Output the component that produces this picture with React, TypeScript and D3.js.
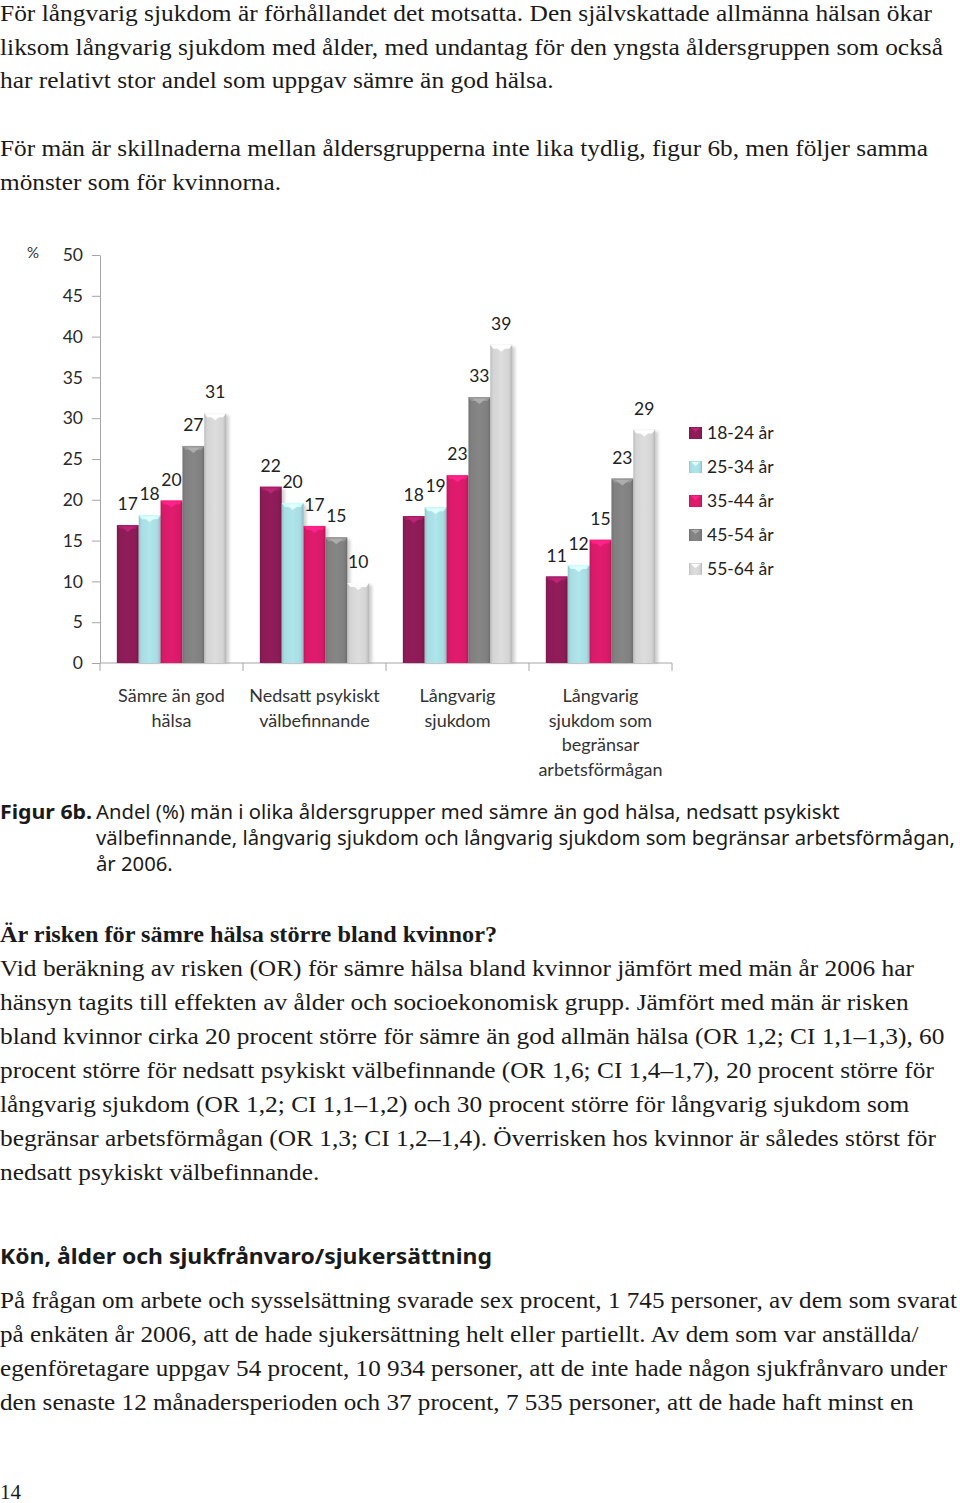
import React, { useRef, useEffect } from "react"
import * as d3 from "d3"

// chart data (figur 6b)
const categories = [
  ["Sämre än god", "hälsa"],
  ["Nedsatt psykiskt", "välbefinnande"],
  ["Långvarig", "sjukdom"],
  ["Långvarig", "sjukdom som", "begränsar", "arbetsförmågan"],
]
const series = ["18-24 år", "25-34 år", "35-44 år", "45-54 år", "55-64 år"]
// one row per age group, one value per category
const values = [
  [16.9, 21.6, 18.0, 10.6],
  [18.1, 19.6, 19.1, 12.0],
  [19.9, 16.8, 23.0, 15.1],
  [26.6, 15.4, 32.6, 22.6],
  [30.6, 9.8, 39.0, 28.6],
]
const yTicks = [0, 5, 10, 15, 20, 25, 30, 35, 40, 45, 50]
const colors = ["#8b1b56", "#a7dce2", "#d81a69", "#808080", "#d4d4d4"]

// page text
const intro1 = [
  "För långvarig sjukdom är förhållandet det motsatta. Den självskattade allmänna hälsan ökar",
  "liksom långvarig sjukdom med ålder, med undantag för den yngsta åldersgruppen som också",
  "har relativt stor andel som uppgav sämre än god hälsa.",
]
const intro2 = [
  "För män är skillnaderna mellan åldersgrupperna inte lika tydlig, figur 6b, men följer samma",
  "mönster som för kvinnorna.",
]
const captionBold = "Figur 6b."
const caption = [
  "Andel (%) män i olika åldersgrupper med sämre än god hälsa, nedsatt psykiskt",
  "välbefinnande, långvarig sjukdom och långvarig sjukdom som begränsar arbetsförmågan,",
  "år 2006.",
]
const heading1 = "Är risken för sämre hälsa större bland kvinnor?"
const para1 = [
  "Vid beräkning av risken (OR) för sämre hälsa bland kvinnor jämfört med män år 2006 har",
  "hänsyn tagits till effekten av ålder och socioekonomisk grupp. Jämfört med män är risken",
  "bland kvinnor cirka 20 procent större för sämre än god allmän hälsa (OR 1,2; CI 1,1–1,3), 60",
  "procent större för nedsatt psykiskt välbefinnande (OR 1,6; CI 1,4–1,7), 20 procent större för",
  "långvarig sjukdom (OR 1,2; CI 1,1–1,2) och 30 procent större för långvarig sjukdom som",
  "begränsar arbetsförmågan (OR 1,3; CI 1,2–1,4). Överrisken hos kvinnor är således störst för",
  "nedsatt psykiskt välbefinnande.",
]
const heading2 = "Kön, ålder och sjukfrånvaro/sjukersättning"
const para2 = [
  "På frågan om arbete och sysselsättning svarade sex procent, 1 745 personer, av dem som svarat",
  "på enkäten år 2006, att de hade sjukersättning helt eller partiellt. Av dem som var anställda/",
  "egenföretagare uppgav 54 procent, 10 934 personer, att de inte hade någon sjukfrånvaro under",
  "den senaste 12 månadersperioden och 37 procent, 7 535 personer, att de hade haft minst en",
]

const SERIF = "'Liberation Serif', 'Times New Roman', Times, serif"
const SANS = "Lato, 'Open Sans', sans-serif"
const CAP = "'Noto Sans', 'Open Sans', sans-serif"

export default function App() {
  const svgRef = useRef<SVGSVGElement>(null)

  useEffect(() => {
    const svg = d3.select(svgRef.current)
    svg.selectAll("*").remove()

    const defs = svg.append("defs")
    colors.forEach((c, i) => {
      const base = d3.color(c)!
      const g = defs.append("linearGradient").attr("id", "grad" + i)
        .attr("x1", "0").attr("x2", "1").attr("y1", "0").attr("y2", "0")
      g.append("stop").attr("offset", "0%").attr("stop-color", base.darker(0.35).toString())
      g.append("stop").attr("offset", "12%").attr("stop-color", c)
      g.append("stop").attr("offset", "50%").attr("stop-color", base.brighter(0.12).toString())
      g.append("stop").attr("offset", "85%").attr("stop-color", c)
      g.append("stop").attr("offset", "100%").attr("stop-color", base.darker(0.45).toString())
    })
    defs.append("filter").attr("id", "shadow")
      .attr("x", "-50%").attr("y", "-10%").attr("width", "200%").attr("height", "120%")
      .append("feGaussianBlur").attr("stdDeviation", 1.5)

    // writes a block of lines; line refIdx is squeezed to refW, the others get the same squeeze
    const writeBlock = (lines: string[], refIdx: number, refW: number, x: number, y0: number,
      lh: number, font: string, size: number) => {
      const nodes = lines.map((t, i) =>
        svg.append("text")
          .attr("x", x).attr("y", y0 + i * lh)
          .attr("font-family", font).attr("font-size", size)
          .attr("fill", "#1a1a1a")
          .text(t))
      const natural = nodes.map(n => (n.node() as SVGTextElement).getComputedTextLength())
      const k = natural[refIdx] > 0 ? refW / natural[refIdx] : 1
      nodes.forEach((n, i) => {
        if (natural[i] > 0)
          n.attr("textLength", natural[i] * k).attr("lengthAdjust", "spacingAndGlyphs")
      })
    }

    const boldLine = (t: string, x: number, yy: number, w: number, font: string, size: number) =>
      svg.append("text").attr("x", x).attr("y", yy)
        .attr("font-family", font).attr("font-size", size).attr("font-weight", "bold")
        .attr("fill", "#1a1a1a")
        .attr("textLength", w).attr("lengthAdjust", "spacingAndGlyphs").text(t)

    writeBlock(intro1, 0, 932, 0, 21, 33.5, SERIF, 23)
    writeBlock(intro2, 0, 928, 0, 156, 33.5, SERIF, 23)

    // ---- chart ----
    const y = d3.scaleLinear().domain([0, 50]).range([663, 255])
    const x0 = d3.scaleBand<number>().domain(d3.range(categories.length)).range([100, 672])
    const x1 = d3.scaleBand<string>().domain(series).range([0, x0.bandwidth()])
      .paddingInner(0).paddingOuter(0.77)

    const g = svg.append("g")

    const yAxis = g.append("g")
      .attr("transform", "translate(100,0)")
      .call(d3.axisLeft(y).tickValues(yTicks).tickSize(8).tickSizeOuter(0).tickPadding(9))
    yAxis.select(".domain").attr("stroke", "#a6a6a6")
    yAxis.selectAll(".tick line").attr("stroke", "#a6a6a6")
    yAxis.selectAll(".tick text")
      .attr("font-family", SANS).attr("font-size", 17.5).attr("fill", "#2a2a2a")

    g.append("text").attr("x", 27).attr("y", 258)
      .attr("font-family", SANS).attr("font-size", 15).attr("fill", "#333").text("%")

    // x axis line with category boundary ticks
    g.append("line").attr("x1", 100).attr("x2", 672).attr("y1", y(0)).attr("y2", y(0))
      .attr("stroke", "#a6a6a6")
    const bounds = [...x0.domain().map(d => x0(d)!), 672]
    g.selectAll("line.xt").data(bounds).enter().append("line").attr("class", "xt")
      .attr("x1", d => d).attr("x2", d => d).attr("y1", y(0)).attr("y2", y(0) + 8)
      .attr("stroke", "#a6a6a6")

    series.forEach((s, si) => {
      const sg = g.append("g")
      const bw = x1.bandwidth()
      values[si].forEach((v, ci) => {
        const bx = x0(ci)! + x1(s)!
        const top = y(v)
        const h = y(0) - top
        const base = d3.color(colors[si])!
        // soft shadow
        sg.append("rect").attr("x", bx + 3).attr("y", top + 2).attr("width", bw).attr("height", h - 2)
          .attr("fill", "#000").attr("opacity", 0.18).attr("filter", "url(#shadow)")
        sg.append("rect").attr("x", bx).attr("y", top).attr("width", bw).attr("height", h)
          .attr("fill", `url(#grad${si})`)
        // bevelled top
        sg.append("polygon")
          .attr("points", `${bx},${top} ${bx + bw},${top} ${bx + bw - 3},${top + 4} ${bx + 3},${top + 4}`)
          .attr("fill", base.brighter(0.5).toString())
        sg.append("polygon")
          .attr("points", `${bx + 4},${top + 1.5} ${bx + bw - 4},${top + 1.5} ${bx + bw / 2},${top + 7}`)
          .attr("fill", base.brighter(0.9).toString()).attr("opacity", 0.9)
        sg.append("text").attr("x", bx + bw / 2).attr("y", top - 15)
          .attr("text-anchor", "middle")
          .attr("font-family", SANS).attr("font-size", 17.5).attr("fill", "#222")
          .text(Math.round(v))
      })
    })

    // category labels
    categories.forEach((lines, ci) => {
      const cx = x0(ci)! + x0.bandwidth() / 2
      const t = g.append("text")
        .attr("x", cx).attr("y", 702)
        .attr("text-anchor", "middle")
        .attr("font-family", SANS).attr("font-size", 18).attr("fill", "#333")
      lines.forEach((l, li) => {
        t.append("tspan").attr("x", cx).attr("y", 702 + li * 24.6).text(l)
      })
    })

    // legend
    const leg = g.append("g").attr("transform", "translate(689,0)")
    series.forEach((s, si) => {
      const cy = 433 + si * 34
      const base = d3.color(colors[si])!
      leg.append("rect").attr("x", 0).attr("y", cy - 6).attr("width", 13).attr("height", 12)
        .attr("fill", `url(#grad${si})`)
      leg.append("polygon").attr("points", `2,${cy - 5} 11,${cy - 5} 6.5,${cy - 1}`)
        .attr("fill", base.brighter(0.8).toString())
      leg.append("text").attr("x", 18).attr("y", cy + 6)
        .attr("font-family", SANS).attr("font-size", 17.5).attr("fill", "#222").text(s)
    })

    // ---- caption ----
    boldLine(captionBold, 0, 819, 92, CAP, 19)
    writeBlock(caption, 1, 859, 96, 819, 26, CAP, 19)

    // ---- text below ----
    boldLine(heading1, 0, 942, 497, SERIF, 23)
    writeBlock(para1, 0, 914, 0, 976, 34, SERIF, 23)

    boldLine(heading2, 0, 1264, 492, CAP, 22)
    writeBlock(para2, 0, 957, 0, 1308, 34, SERIF, 23)

    svg.append("text").attr("x", 0).attr("y", 1499)
      .attr("font-family", SERIF).attr("font-size", 21).attr("fill", "#1a1a1a")
      .text("14")
  }, [])

  return (
    <svg ref={svgRef} width={960} height={1503}
      style={{ position: "absolute", left: 0, top: 0, background: "#fff" }} />
  )
}
